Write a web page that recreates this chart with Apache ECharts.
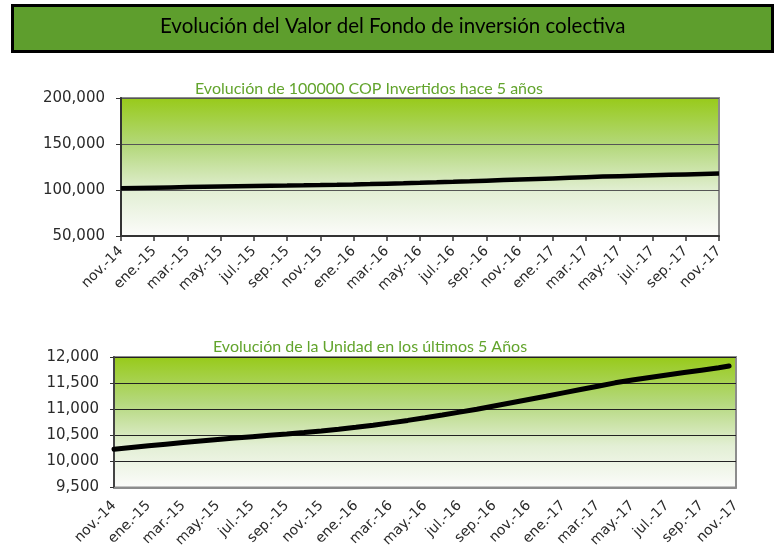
<!DOCTYPE html>
<html>
<head>
<meta charset="utf-8">
<script src="https://cdn.jsdelivr.net/npm/echarts@6/dist/echarts.min.js"></script>
<style>
html,body{margin:0;padding:0;background:#fff;}
#chart{width:777px;height:550px;}
</style>
</head>
<body>
<div id="chart"></div>
<script>
// ---- Data ----
var monthLabels = ['nov.-14','dic.-14','ene.-15','feb.-15','mar.-15','abr.-15','may.-15','jun.-15','jul.-15','ago.-15','sep.-15','oct.-15',
  'nov.-15','dic.-15','ene.-16','feb.-16','mar.-16','abr.-16','may.-16','jun.-16','jul.-16','ago.-16','sep.-16','oct.-16',
  'nov.-16','dic.-16','ene.-17','feb.-17','mar.-17','abr.-17','may.-17','jun.-17','jul.-17','ago.-17','sep.-17','oct.-17','nov.-17'];

// Value of 100000 COP invested 5 years ago (monthly)
var fundValues = [101900,102220,102540,102850,103150,103450,103730,104010,104280,104550,104810,105080,
  105370,105690,106060,106470,106920,107390,107880,108410,108960,109530,110140,110760,
  111380,112000,112630,113270,113910,114550,115080,115580,116060,116520,116970,117420,117850];

// Unit value: positions in months from nov.-14, and values
var unitPositions = [0,1,2,3,4,5,6,7,8,9,10,11,12,13,14,15,16,17,18,19,20,21,22,23,24,25,26,27,28,29,30,31,32,33,34,35,35.6];
var unitValues = [10234,10266,10298,10329,10360,10390,10418,10446,10473,10500,10526,10553,
  10582,10615,10652,10693,10738,10785,10835,10888,10943,11000,11062,11124,
  11186,11248,11312,11376,11440,11505,11558,11608,11656,11702,11748,11793,11829];

var bannerTitle = 'Evolución del Valor del Fondo de inversión colectiva';
var topTitle = 'Evolución de 100000 COP Invertidos hace 5 años';
var bottomTitle = 'Evolución de la Unidad en los últimos 5 Años';

// ---- Chart ----
var chart = echarts.init(document.getElementById('chart'), null, {renderer:'canvas'});
function fmt(v){ return String(v).replace(/\B(?=(\d{3})+(?!\d))/g, ','); }
var bg = {type:'linear', x:0, y:0, x2:0, y2:1, colorStops:[
  {offset:0, color:'#97ca18'},{offset:0.35, color:'#b4d87c'},{offset:0.68, color:'#e3efd5'},{offset:1, color:'#fcfcfb'}]};
var yLabel = {color:'#2a2a2a', fontSize:15, fontFamily:'DejaVu Sans', formatter:fmt};
var xLabel = {color:'#2a2a2a', fontSize:14, fontFamily:'DejaVu Sans', rotate:45};
var unitData = unitPositions.map(function(p,i){ return [p, unitValues[i]]; });

chart.setOption({
  animation:false,
  backgroundColor:'#ffffff',
  graphic:[{
    type:'rect', left:11, top:4, shape:{width:760, height:46},
    style:{fill:'#5e9e2d', stroke:'#000', lineWidth:3}
  },{
    type:'text', left:160, top:16,
    style:{text:bannerTitle, fill:'#000', font:'20.5px Lato'}
  }],
  title:[
    {text:topTitle, left:190, top:76, textStyle:{color:'#62a42c', fontSize:16, fontWeight:'normal', fontFamily:'Lato'}},
    {text:bottomTitle, left:208, top:334, textStyle:{color:'#62a42c', fontSize:16, fontWeight:'normal', fontFamily:'Lato'}}
  ],
  grid:[
    {left:121, top:98, width:598, height:138, show:true, backgroundColor:bg, borderColor:'#8c8c8c', borderWidth:2},
    {left:114, top:357, width:622, height:132, show:true, backgroundColor:bg, borderColor:'#8c8c8c', borderWidth:2}
  ],
  xAxis:[
    {gridIndex:0, type:'category', data:monthLabels, boundaryGap:false,
     axisLine:{lineStyle:{color:'#333', width:2}},
     axisTick:{show:true, interval:1, length:5, lineStyle:{color:'#333', width:1.5}},
     axisLabel:Object.assign({interval:1, margin:13}, xLabel),
     splitLine:{show:false}},
    {gridIndex:1, type:'value', min:0, max:36, interval:2,
     axisLine:{lineStyle:{color:'#8c8c8c', width:2}},
     axisTick:{show:false},
     axisLabel:Object.assign({margin:16, formatter:function(v){ return monthLabels[v] || ''; }}, xLabel),
     splitLine:{show:false}}
  ],
  yAxis:[
    {gridIndex:0, type:'value', min:50000, max:200000, interval:50000,
     axisLine:{show:true, lineStyle:{color:'#333', width:2}},
     axisTick:{show:true, length:5, lineStyle:{color:'#333'}},
     axisLabel:Object.assign({margin:16}, yLabel),
     splitLine:{show:true, lineStyle:{color:'#555', width:1.2}}},
    {gridIndex:1, type:'value', min:9500, max:12000, interval:500,
     axisLine:{show:true, lineStyle:{color:'#444', width:2}},
     axisTick:{show:true, length:4, lineStyle:{color:'#333'}},
     axisLabel:Object.assign({margin:15}, yLabel),
     splitLine:{show:true, lineStyle:{color:'#222', width:1.2}}}
  ],
  series:[
    {type:'line', xAxisIndex:0, yAxisIndex:0, data:fundValues, symbol:'none',
     lineStyle:{color:'#000', width:4.5}},
    {type:'line', xAxisIndex:1, yAxisIndex:1, data:unitData, symbol:'none',
     lineStyle:{color:'#000', width:5, cap:'round'}}
  ]
});
</script>
</body>
</html>
